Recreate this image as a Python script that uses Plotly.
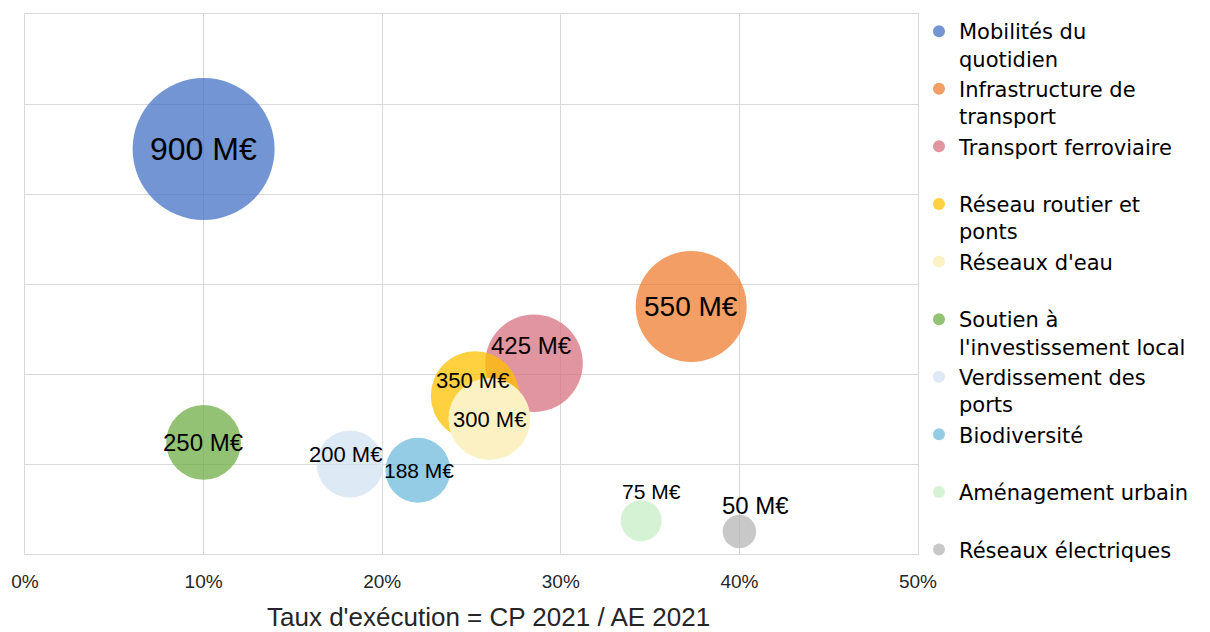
import plotly.graph_objects as go

# ---- data ----
categories = [
    "Mobilités du quotidien", "Infrastructure de transport", "Transport ferroviaire",
    "Réseau routier et ponts", "Réseaux d'eau", "Soutien à l'investissement local",
    "Verdissement des ports", "Biodiversité", "Aménagement urbain", "Réseaux électriques",
]
legend_labels = [
    "Mobilités du<br>quotidien", "Infrastructure de<br>transport", "Transport ferroviaire<br>\u00a0",
    "Réseau routier et<br>ponts", "Réseaux d'eau<br>\u00a0", "Soutien à<br>l'investissement local",
    "Verdissement des<br>ports", "Biodiversité<br>\u00a0", "Aménagement urbain<br>\u00a0",
    "Réseaux électriques<br>\u00a0",
]
taux_execution = [0.100, 0.373, 0.285, 0.252, 0.260, 0.100, 0.182, 0.220, 0.345, 0.400]
y_values = [4.50, 2.75, 2.12, 1.76, 1.50, 1.24, 1.00, 0.93, 0.37, 0.25]
montants = [900, 550, 425, 350, 300, 250, 200, 188, 75, 50]

# ---- styles ----
colors = [
    "rgba(68,114,196,0.75)", "rgba(237,125,49,0.75)", "rgba(215,114,128,0.75)",
    "rgba(255,192,0,0.75)", "rgba(252,241,194,1)", "rgba(112,173,71,0.75)",
    "rgba(210,226,242,0.75)", "rgba(112,187,222,0.75)", "rgba(199,238,199,0.75)",
    "rgba(182,182,182,0.75)",
]
label_sizes = [32, 28, 24, 22, 22, 24, 22, 21, 21, 24]
label_dx = [0, 0, -3, -3, 0, 0, -5, 1, 10, 16]
label_dy = [0, 0, 18, 15, 0, 0, 10, 0, 29, 26]

SIZEREF = 0.0893
LABEL_FONT = "Liberation Sans, Arial, sans-serif"
LEGEND_FONT = "DejaVu Sans, sans-serif"
AXIS_FONT = "Liberation Sans, Arial, sans-serif"

W, H = 1202, 624
ML, MT, MR, MB = 15, 3, 292, 78
PW, PH = W - ML - MR, H - MT - MB

fig = go.Figure()
for i, cat in enumerate(categories):
    fig.add_trace(go.Scatter(
        x=[taux_execution[i]], y=[y_values[i]],
        mode="markers",
        name=legend_labels[i],
        marker=dict(size=[montants[i]], sizemode="area", sizeref=SIZEREF,
                    color=colors[i], opacity=1, line=dict(width=0)),
        hovertext=[cat], hoverinfo="text+x",
    ))
    fig.add_annotation(
        x=taux_execution[i], y=y_values[i], xref="x", yref="y",
        text=f"{montants[i]} M€", showarrow=False,
        xshift=label_dx[i], yshift=label_dy[i],
        font=dict(family=LABEL_FONT, size=label_sizes[i], color="#000000"),
    )

fig.add_annotation(
    x=(487.5 - 23) / PW, y=0, xref="paper", yref="paper", yanchor="middle",
    yshift=-63, text="Taux d'exécution = CP 2021 / AE 2021", showarrow=False,
    font=dict(family=AXIS_FONT, size=26, color="#262626"),
)

fig.update_layout(
    width=W, height=H,
    margin=dict(l=ML, r=MR, t=MT, b=MB),
    paper_bgcolor="white", plot_bgcolor="white",
    showlegend=True,
    legend=dict(
        x=(919 - 23) / PW, y=1 + 3 / PH, xanchor="left", yanchor="top",
        font=dict(family=LEGEND_FONT, size=21, color="#000000"),
        itemsizing="constant", valign="top", bgcolor="rgba(0,0,0,0)",
        borderwidth=0, maxheight=H,
    ),
    xaxis=dict(
        range=[0, 0.5], dtick=0.1, tick0=0, tickformat=".0%",
        showgrid=True, gridcolor="#D9D9D9", gridwidth=1.3,
        showline=True, linecolor="#D9D9D9", linewidth=1.3, mirror=True,
        zeroline=False, ticks="", ticklabelstandoff=10,
        tickfont=dict(family=AXIS_FONT, size=19, color="#262626"),
    ),
    yaxis=dict(
        range=[0, 6], dtick=1, tick0=0,
        showgrid=True, gridcolor="#D9D9D9", gridwidth=1.3,
        showline=True, linecolor="#D9D9D9", linewidth=1.3, mirror=True,
        zeroline=False, showticklabels=False, ticks="",
    ),
)

fig.write_html("out.html")
